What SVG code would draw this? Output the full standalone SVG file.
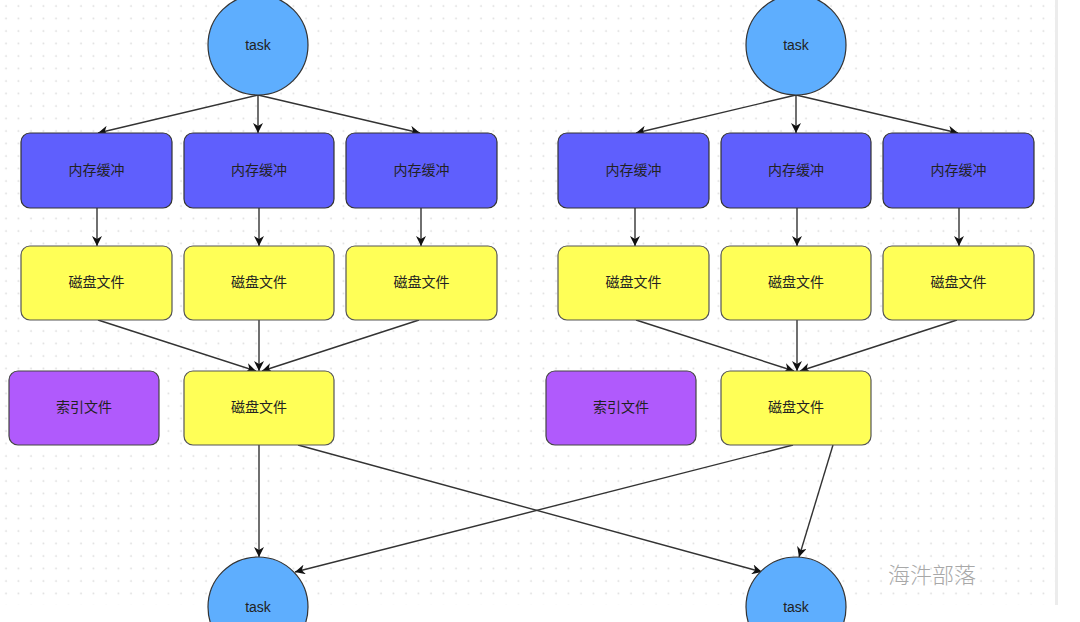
<svg xmlns="http://www.w3.org/2000/svg" width="1080" height="622" viewBox="0 0 1080 622">
<style>
.task{fill:#5eaefe;stroke:#333;stroke-width:1.2}
.mem{fill:#5f5ffd;stroke:#333;stroke-width:1.2}
.disk{fill:#ffff57;stroke:#555;stroke-width:1.2}
.idx{fill:#b05afc;stroke:#444;stroke-width:1.2}
.lbl{font-family:"Liberation Sans","Noto Sans CJK SC",sans-serif;font-size:14px;fill:#222;text-anchor:middle;dominant-baseline:central}
.cn{font-family:"Noto Sans CJK SC",sans-serif;font-size:14px;fill:#222;text-anchor:middle;dominant-baseline:central}
.edge{fill:none;stroke:#333;stroke-width:1.4;marker-end:url(#arr)}
</style>
<defs>
<pattern id="dots" width="12.5" height="12.5" patternUnits="userSpaceOnUse">
<circle cx="6" cy="6" r="0.9" fill="#dcdcdc"/>
</pattern>
<marker id="arr" viewBox="0 0 10 10" refX="10" refY="5" markerWidth="10" markerHeight="10" markerUnits="userSpaceOnUse" orient="auto">
<path d="M0,0 L10,5 L0,10 L3,5 z" fill="#111"/>
</marker>
</defs>
<rect width="1080" height="622" fill="#fff"/>
<rect x="0" y="0" width="1055" height="605" fill="url(#dots)"/>
<rect x="1055" y="0" width="3" height="605" fill="#ececec"/>

<g id="connectors">
<line class="edge" x1="258" y1="95" x2="98" y2="133"/>
<line class="edge" x1="258" y1="95" x2="258" y2="133"/>
<line class="edge" x1="258" y1="95" x2="420" y2="133"/>
<line class="edge" x1="97" y1="208" x2="97" y2="246"/>
<line class="edge" x1="259" y1="208" x2="259" y2="246"/>
<line class="edge" x1="421" y1="208" x2="421" y2="246"/>
<line class="edge" x1="98" y1="320" x2="256" y2="371"/>
<line class="edge" x1="259" y1="320" x2="259" y2="371"/>
<line class="edge" x1="419" y1="320" x2="262" y2="371"/>
<line class="edge" x1="259" y1="445" x2="259" y2="557"/>
<line class="edge" x1="298" y1="445" x2="762" y2="572"/>

<line class="edge" x1="796" y1="95" x2="636" y2="133"/>
<line class="edge" x1="796" y1="95" x2="796" y2="133"/>
<line class="edge" x1="796" y1="95" x2="958" y2="133"/>
<line class="edge" x1="635" y1="208" x2="635" y2="246"/>
<line class="edge" x1="797" y1="208" x2="797" y2="246"/>
<line class="edge" x1="959" y1="208" x2="959" y2="246"/>
<line class="edge" x1="636" y1="320" x2="794" y2="371"/>
<line class="edge" x1="797" y1="320" x2="797" y2="371"/>
<line class="edge" x1="957" y1="320" x2="800" y2="371"/>
<line class="edge" x1="793" y1="445" x2="295" y2="572"/>
<line class="edge" x1="833" y1="445" x2="799" y2="557"/>
</g>

<g id="task_tl"><circle class="task" cx="258" cy="45" r="50"/><text class="lbl" x="258" y="45">task</text></g>
<g id="mem_l1"><rect class="mem" x="21" y="133" width="151" height="75" rx="9"/><text class="cn" x="96.5" y="168.5">内存缓冲</text></g>
<g id="mem_l2"><rect class="mem" x="184" y="133" width="150" height="75" rx="9"/><text class="cn" x="259" y="168.5">内存缓冲</text></g>
<g id="mem_l3"><rect class="mem" x="346" y="133" width="151" height="75" rx="9"/><text class="cn" x="421.5" y="168.5">内存缓冲</text></g>
<g id="disk_l1"><rect class="disk" x="21" y="246" width="151" height="74" rx="9"/><text class="cn" x="96.5" y="281">磁盘文件</text></g>
<g id="disk_l2"><rect class="disk" x="184" y="246" width="150" height="74" rx="9"/><text class="cn" x="259" y="281">磁盘文件</text></g>
<g id="disk_l3"><rect class="disk" x="346" y="246" width="151" height="74" rx="9"/><text class="cn" x="421.5" y="281">磁盘文件</text></g>
<g id="idx_l"><rect class="idx" x="9" y="371" width="150" height="74" rx="9"/><text class="cn" x="84" y="406">索引文件</text></g>
<g id="merge_l"><rect class="disk" x="184" y="371" width="150" height="74" rx="9"/><text class="cn" x="259" y="406">磁盘文件</text></g>
<g id="task_bl"><circle class="task" cx="258" cy="607" r="50"/><text class="lbl" x="258" y="607">task</text></g>

<g id="task_tr"><circle class="task" cx="796" cy="45" r="50"/><text class="lbl" x="796" y="45">task</text></g>
<g id="mem_r1"><rect class="mem" x="558" y="133" width="151" height="75" rx="9"/><text class="cn" x="633.5" y="168.5">内存缓冲</text></g>
<g id="mem_r2"><rect class="mem" x="721" y="133" width="150" height="75" rx="9"/><text class="cn" x="796" y="168.5">内存缓冲</text></g>
<g id="mem_r3"><rect class="mem" x="883" y="133" width="151" height="75" rx="9"/><text class="cn" x="958.5" y="168.5">内存缓冲</text></g>
<g id="disk_r1"><rect class="disk" x="558" y="246" width="151" height="74" rx="9"/><text class="cn" x="633.5" y="281">磁盘文件</text></g>
<g id="disk_r2"><rect class="disk" x="721" y="246" width="150" height="74" rx="9"/><text class="cn" x="796" y="281">磁盘文件</text></g>
<g id="disk_r3"><rect class="disk" x="883" y="246" width="151" height="74" rx="9"/><text class="cn" x="958.5" y="281">磁盘文件</text></g>
<g id="idx_r"><rect class="idx" x="546" y="371" width="150" height="74" rx="9"/><text class="cn" x="621" y="406">索引文件</text></g>
<g id="merge_r"><rect class="disk" x="721" y="371" width="150" height="74" rx="9"/><text class="cn" x="796" y="406">磁盘文件</text></g>
<g id="task_br"><circle class="task" cx="796" cy="607" r="50"/><text class="lbl" x="796" y="607">task</text></g>

<text x="932" y="573" font-family="Noto Sans CJK SC, sans-serif" font-size="22" font-weight="300" fill="#a8a8a8" text-anchor="middle" dominant-baseline="central">海汼部落</text>
</svg>
